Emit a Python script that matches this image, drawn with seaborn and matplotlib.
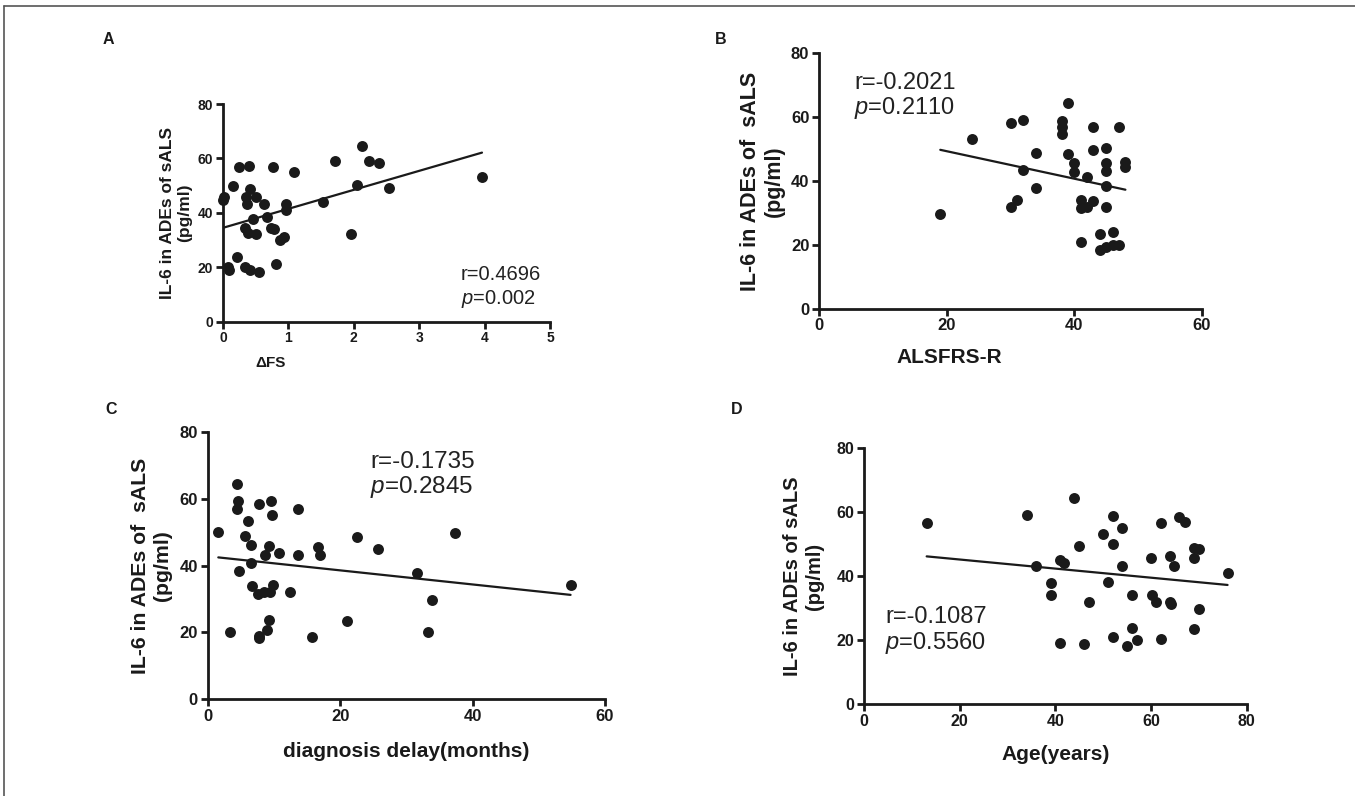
import matplotlib
matplotlib.use("Agg")
import matplotlib.pyplot as plt
from matplotlib.lines import Line2D
import seaborn as sns

# ---------------- data ----------------
a_x = [0.02, 0.0, 0.07, 0.09, 0.16, 0.22, 0.25, 0.33, 0.34, 0.35, 0.37, 0.38, 0.39, 0.41, 0.41,
       0.46, 0.50, 0.50, 0.55, 0.62, 0.67, 0.74, 0.78, 0.76, 0.81, 0.87, 0.94, 0.96, 0.97, 1.08,
       1.53, 1.72, 1.96, 2.05, 2.12, 2.23, 2.38, 2.54, 3.96]
a_y = [46.0, 44.7, 20.0, 19.0, 50.0, 23.9, 56.9, 34.3, 20.1, 46.0, 43.4, 32.5, 57.1, 48.7, 19.0,
       37.9, 45.7, 32.1, 18.3, 43.1, 38.6, 34.3, 34.2, 56.7, 21.1, 29.9, 31.0, 41.0, 43.1, 55.0,
       44.1, 59.2, 32.2, 50.1, 64.5, 59.2, 58.2, 49.0, 53.2]

b_x = [19, 24, 30, 30, 31, 32, 32, 34, 34, 38, 38, 38, 39, 39, 40, 40, 41, 41, 41, 42, 42, 43, 43,
       43, 45, 45, 45, 45, 45, 44, 46, 44, 45, 46, 47, 47, 48, 48]
b_y = [29.7, 53.1, 58.1, 31.7, 34.0, 59.1, 43.5, 48.9, 37.8, 58.8, 57.0, 54.8, 64.5, 48.5, 45.6,
       42.9, 33.9, 31.5, 21.0, 41.1, 32.0, 33.8, 56.9, 49.7, 50.3, 45.6, 43.0, 38.4, 32.0, 23.5,
       23.9, 18.4, 19.4, 20.0, 20.0, 56.9, 46.1, 44.5]

c_x = [1.6, 3.4, 4.4, 4.6, 4.4, 4.7, 5.6, 6.1, 6.6, 6.5, 6.7, 7.6, 7.7, 7.7, 7.8, 8.5, 8.7, 9.0,
       9.3, 9.3, 9.4, 9.6, 9.7, 9.8, 10.7, 12.5, 13.6, 13.6, 15.8, 16.6, 16.9, 21.0, 22.5, 25.7,
       31.6, 33.3, 33.9, 37.4, 54.8]
c_y = [50.1, 20.0, 64.5, 59.2, 56.9, 38.3, 48.9, 53.2, 46.1, 40.8, 34.0, 31.5, 58.5, 18.9, 18.2,
       32.0, 43.2, 20.8, 45.7, 23.7, 32.0, 59.3, 55.0, 34.1, 43.8, 32.0, 56.9, 43.1, 18.7, 45.6,
       43.1, 23.4, 48.6, 44.9, 37.8, 20.0, 29.7, 49.6, 34.2]

d_x = [13.1, 34.0, 36.0, 39.0, 39.0, 41.0, 41.9, 41.0, 44.0, 45.0, 46.0, 47.0, 50.0, 51.1, 52.0,
       52.0, 52.0, 54.0, 54.0, 54.9, 56.0, 56.0, 57.0, 59.9, 60.1, 61.0, 62.0, 62.0, 64.0, 64.0,
       64.1, 64.9, 65.9, 67.1, 68.9, 68.9, 68.9, 70.1, 70.1, 76.0]
d_y = [56.7, 59.1, 43.2, 38.0, 34.1, 45.0, 44.0, 19.0, 64.3, 49.5, 18.8, 32.0, 53.2, 38.3, 58.8,
       50.1, 21.1, 55.0, 43.2, 18.1, 34.1, 23.7, 20.0, 45.6, 34.1, 32.0, 56.7, 20.2, 46.3, 32.0,
       31.3, 43.2, 58.4, 57.0, 48.7, 45.6, 23.4, 48.5, 29.7, 40.9]

panel_letters = ["A", "B", "C", "D"]
x_labels = ["ΔFS", "ALSFRS-R", "diagnosis delay(months)", "Age(years)"]
y_labels = ["IL-6 in ADEs of sALS\n(pg/ml)", "IL-6 in ADEs of  sALS\n(pg/ml)",
            "IL-6 in ADEs of  sALS\n(pg/ml)", "IL-6 in ADEs of sALS\n(pg/ml)"]
r_texts = ["r=0.4696", "r=-0.2021", "r=-0.1735", "r=-0.1087"]
p_texts = ["$p$=0.002", "$p$=0.2110", "$p$=0.2845", "$p$=0.5560"]
x_ticks = [[0, 1, 2, 3, 4, 5], [0, 20, 40, 60], [0, 20, 40, 60], [0, 20, 40, 60, 80]]
y_ticks = [0, 20, 40, 60, 80]

# ---------------- style ----------------
sns.set_theme(style="ticks")
plt.rcParams["font.family"] = ["Liberation Sans", "DejaVu Sans"]
plt.rcParams["mathtext.fontset"] = "custom"
plt.rcParams["mathtext.it"] = "Liberation Sans:italic"
plt.rcParams["mathtext.rm"] = "Liberation Sans"

INK = "#1a1a1a"

fig = plt.figure(figsize=(13.55, 7.96), dpi=100)
W, H = 1355.0, 796.0

def px_axes(left, top, right, bottom):
    return fig.add_axes([left / W, 1 - bottom / H, (right - left) / W, (bottom - top) / H])

axes = [
    px_axes(223, 104, 550, 321.7),
    px_axes(819, 53.3, 1202, 308.7),
    px_axes(207.7, 431.7, 605, 699.3),
    px_axes(864, 448.3, 1246.7, 704),
]

datasets = [(a_x, a_y), (b_x, b_y), (c_x, c_y), (d_x, d_y)]
xlims = [(0, 5), (0, 60), (0, 60), (0, 80)]
tick_fs = [10, 12, 12, 11.5]
ylab_fs = [12.5, 15.5, 15.3, 14.5]
xlab_fs = [11, 15, 15, 15]
stat_fs = [14.5, 17, 17.5, 17]
ylab_coords = [-0.095, -0.089, -0.09, -0.105]
xlab_coords = [(0.144, -0.158), (0.34, -0.154), (0.5, -0.16), (0.5, -0.16)]
stat_pos = [(3.64, 17.2, 8.3), (5.5, 70.8, 62.9), (24.5, 70.9, 63.4), (4.4, 27.2, 19.1)]

for i, ax in enumerate(axes):
    xs, ys = datasets[i]
    sns.regplot(x=xs, y=ys, ax=ax, ci=None, truncate=True,
                scatter_kws=dict(s=62, color=INK, alpha=1, linewidths=0, clip_on=False, zorder=3),
                line_kws=dict(color=INK, lw=1.6, zorder=2))
    ax.set_xlim(*xlims[i])
    ax.set_ylim(0, 80)
    ax.set_xticks(x_ticks[i])
    ax.set_yticks(y_ticks)
    sns.despine(ax=ax)
    for s in ["left", "bottom"]:
        ax.spines[s].set_linewidth(2.0)
        ax.spines[s].set_color(INK)
    ax.tick_params(direction="out", length=5, width=2.0, color=INK, pad=2,
                   labelsize=tick_fs[i], labelcolor=INK)
    for lab in ax.get_xticklabels() + ax.get_yticklabels():
        lab.set_fontweight("bold")
    ax.set_ylabel(y_labels[i], fontsize=ylab_fs[i], fontweight="bold", color=INK,
                  linespacing=1.2)
    ax.yaxis.set_label_coords(ylab_coords[i], 0.5)
    ax.set_xlabel(x_labels[i], fontsize=xlab_fs[i], fontweight="bold", color=INK)
    ax.xaxis.set_label_coords(*xlab_coords[i])
    ax.xaxis.label.set_va("top")
    sx, ry, py = stat_pos[i]
    ax.text(sx, ry, r_texts[i], fontsize=stat_fs[i], color="#222222", ha="left", va="center")
    ax.text(sx, py, p_texts[i], fontsize=stat_fs[i], color="#222222", ha="left", va="center")
    ax.set_facecolor("none")

letter_pos = [(108, 40), (721, 40), (111, 410), (737, 410)]
for (lx, ly), letter in zip(letter_pos, panel_letters):
    fig.text(lx / W, 1 - ly / H, letter, fontsize=11.5, fontweight="bold", color=INK,
             ha="center", va="center")

# figure frame (top and left edges)
fig.add_artist(Line2D([4 / W, 1], [1 - 6 / H, 1 - 6 / H], transform=fig.transFigure,
                      color="#555555", lw=1.2))
fig.add_artist(Line2D([4 / W, 4 / W], [0, 1 - 6 / H], transform=fig.transFigure,
                      color="#555555", lw=1.2))

fig.savefig("out.png", dpi=100)
